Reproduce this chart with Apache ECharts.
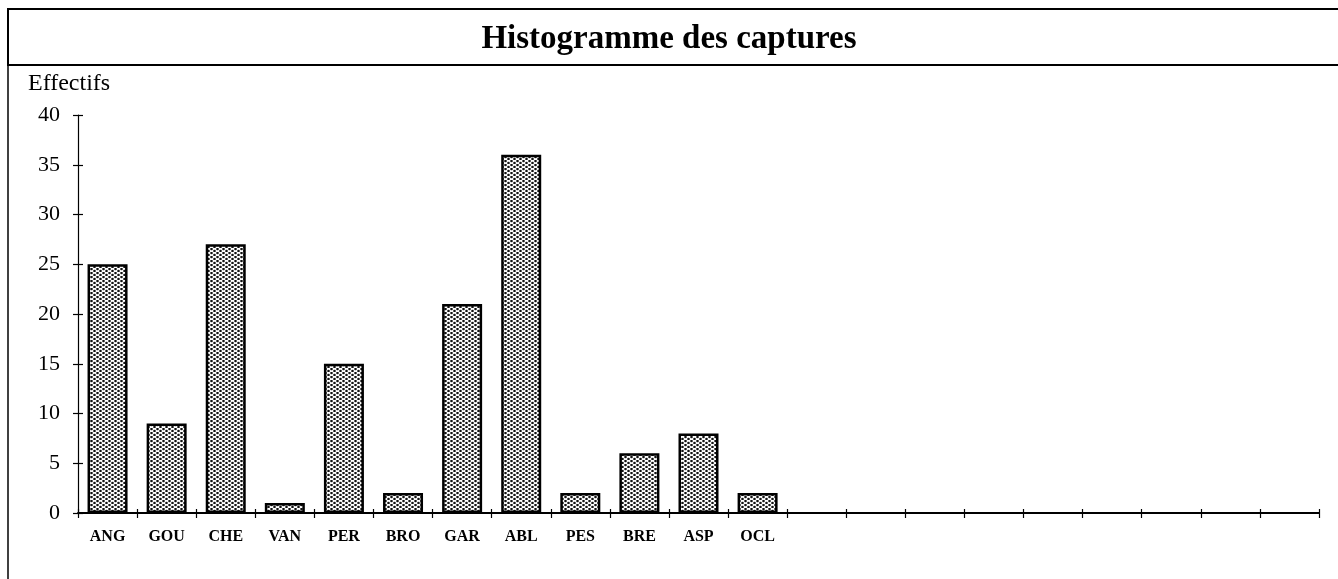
<!DOCTYPE html>
<html>
<head>
    <meta charset="utf-8">
    <script src="https://cdn.jsdelivr.net/npm/echarts@6/dist/echarts.min.js"></script>
    <style>
        html, body { margin: 0; padding: 0; background: #fff; }
    </style>
</head>
<body>
<div id="main" style="width: 1338px;height:579px;"></div>
<script type="text/javascript">
    // categories, the axis keeps 9 empty slots after OCL
    var especes = ['ANG', 'GOU', 'CHE', 'VAN', 'PER', 'BRO', 'GAR', 'ABL', 'PES', 'BRE', 'ASP', 'OCL'];
    var effectifs = [25, 9, 27, 1, 15, 2, 21, 36, 2, 6, 8, 2];
    var videsEnFin = ['', '', '', '', '', '', '', '', ''];
    var yTicks = [0, 5, 10, 15, 20, 25, 30, 35, 40];

    var categories = especes.concat(videsEnFin);

    // dotted fill like the old printed histogram
    function trame() {
        var c = document.createElement('canvas');
        c.width = 6; c.height = 4;
        var ctx = c.getContext('2d');
        ctx.fillStyle = '#ffffff';
        ctx.fillRect(0, 0, 6, 4);
        ctx.fillStyle = '#111111';
        ctx.beginPath();
        ctx.arc(1.5, 1, 1.3, 0, Math.PI * 2);
        ctx.fill();
        ctx.beginPath();
        ctx.arc(4.5, 3, 1.3, 0, Math.PI * 2);
        ctx.fill();
        return c;
    }

    var serif = '"Liberation Serif", "DejaVu Serif", serif';
    var myChart = echarts.init(document.getElementById('main'));

    var option = {
        backgroundColor: '#fff',
        animation: false,
        title: {
            text: 'Histogramme des captures',
            left: 'center',
            top: 18,
            textStyle: { fontFamily: serif, fontSize: 33, fontWeight: 'bold', color: '#000' }
        },
        graphic: [
            {
                type: 'rect',
                shape: { x: 8, y: 9, width: 1340, height: 56 },
                style: { fill: 'none', stroke: '#000', lineWidth: 2 }
            },
            {
                type: 'line',
                shape: { x1: 8, y1: 65, x2: 8, y2: 579 },
                style: { stroke: '#000', lineWidth: 1.5 }
            },
            {
                type: 'text',
                left: 28,
                top: 72,
                style: { text: 'Effectifs', font: '24px ' + serif, fill: '#000' }
            }
        ],
        grid: { left: 78, right: 19, top: 115, bottom: 66 },
        xAxis: [
            {
                type: 'category',
                data: categories,
                axisLine: { lineStyle: { color: '#000', width: 1.8 } },
                axisTick: { show: true, length: 5, lineStyle: { color: '#000', width: 1.2 } },
                axisLabel: {
                    interval: 0, margin: 16,
                    fontFamily: serif, fontSize: 16, fontWeight: 'bold', color: '#000'
                }
            },
            {
                type: 'category',
                data: categories,
                position: 'bottom',
                axisLine: { show: false },
                axisTick: { show: true, inside: true, length: 4, lineStyle: { color: '#000', width: 1.2 } },
                axisLabel: { show: false }
            }
        ],
        yAxis: [
            {
                type: 'value',
                min: yTicks[0],
                max: yTicks[yTicks.length - 1],
                interval: 5,
                splitLine: { show: false },
                axisLine: { show: true, lineStyle: { color: '#000', width: 1.2 } },
                axisTick: { show: true, length: 5, lineStyle: { color: '#000', width: 1.2 } },
                axisLabel: { margin: 18, fontFamily: serif, fontSize: 22, color: '#000' }
            },
            {
                type: 'value',
                position: 'left',
                min: yTicks[0],
                max: yTicks[yTicks.length - 1],
                interval: 5,
                splitLine: { show: false },
                axisLine: { show: false },
                axisTick: { show: true, inside: true, length: 5, lineStyle: { color: '#000', width: 1.2 } },
                axisLabel: { show: false }
            }
        ],
        series: [
            {
                name: 'Effectifs',
                type: 'bar',
                barWidth: 40,
                data: effectifs,
                itemStyle: {
                    color: { image: trame(), repeat: 'repeat' },
                    borderColor: '#000',
                    borderWidth: 2.5
                }
            }
        ]
    };

    myChart.setOption(option);
</script>
</body>
</html>
